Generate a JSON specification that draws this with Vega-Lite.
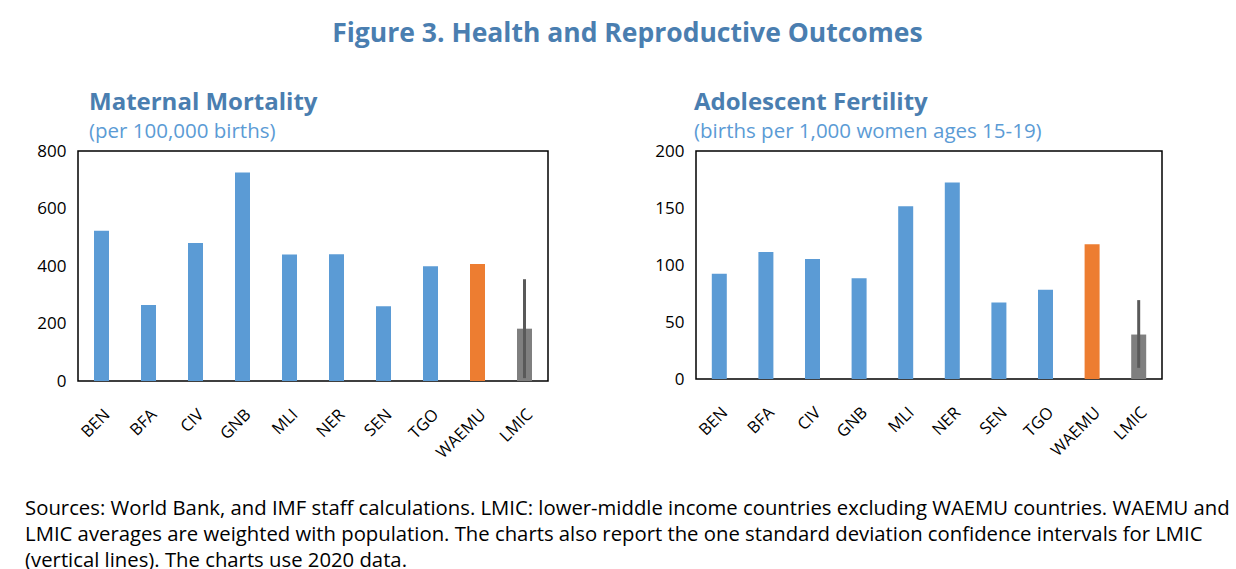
{
  "$schema": "https://vega.github.io/schema/vega-lite/v6.json",
  "padding": {"left": 25, "top": 21, "right": 2, "bottom": 0},
  "background": "white",
  "config": {
    "font": "Open Sans",
    "view": {"stroke": "#000000", "strokeWidth": 1.5},
    "axis": {"grid": false, "domain": false, "ticks": false, "labelFontSize": 17, "labelColor": "#000000", "title": null, "labelFont": "Open Sans"},
    "title": {"font": "Open Sans"}
  },
  "title": {"text": "Figure 3. Health and Reproductive Outcomes", "fontSize": 26.5, "fontWeight": "bold", "color": "#4A7EB0", "anchor": "middle", "offset": 42},
  "vconcat": [
    {
      "title": {
        "text": [
          "Sources: World Bank, and IMF staff calculations. LMIC: lower-middle income countries excluding WAEMU countries. WAEMU and",
          "LMIC averages are weighted with population. The charts also report the one standard deviation confidence intervals for LMIC",
          "(vertical lines). The charts use 2020 data."
        ],
        "orient": "bottom", "anchor": "start", "frame": "bounds", "dx": -11,
        "fontSize": 20.3, "fontWeight": "normal", "color": "#000000", "lineHeight": 26, "offset": 37
      },
      "spacing": 105,
      "hconcat": [
        {
          "title": {"text": "Maternal Mortality", "subtitle": "(per 100,000 births)", "anchor": "start", "frame": "group", "dx": 11, "fontSize": 24, "fontWeight": "bold", "color": "#4A7EB0", "subtitleFontSize": 20.5, "subtitleColor": "#5B9BD5", "subtitlePadding": 7, "offset": 0},
          "width": 470,
          "height": 230,
          "data": {"values": [
            {"cat": "BEN", "grp": "country", "value": 523},
            {"cat": "BFA", "grp": "country", "value": 264},
            {"cat": "CIV", "grp": "country", "value": 480},
            {"cat": "GNB", "grp": "country", "value": 725},
            {"cat": "MLI", "grp": "country", "value": 440},
            {"cat": "NER", "grp": "country", "value": 441},
            {"cat": "SEN", "grp": "country", "value": 260},
            {"cat": "TGO", "grp": "country", "value": 399},
            {"cat": "WAEMU", "grp": "WAEMU", "value": 407},
            {"cat": "LMIC", "grp": "LMIC", "value": 182, "lo": 10, "hi": 354}
          ]},
          "layer": [
            {
              "mark": {"type": "bar", "size": 15},
              "encoding": {
                "x": {"field": "cat", "type": "nominal", "sort": null, "axis": {"labelAngle": -45, "labelPadding": 25, "labelFontSize": 16.5}},
                "y": {"field": "value", "type": "quantitative", "scale": {"domain": [0, 800]}, "axis": {"values": [0, 200, 400, 600, 800], "labelPadding": 12}},
                "color": {"field": "grp", "type": "nominal", "scale": {"domain": ["country", "WAEMU", "LMIC"], "range": ["#5B9BD5", "#ED7D31", "#7F7F7F"]}, "legend": null}
              }
            },
            {
              "transform": [{"filter": "isValid(datum.lo)"}],
              "mark": {"type": "rule", "color": "#595959", "strokeWidth": 3},
              "encoding": {
                "x": {"field": "cat", "type": "nominal", "sort": null},
                "y": {"field": "lo", "type": "quantitative"},
                "y2": {"field": "hi"}
              }
            }
          ]
        },
        {
          "title": {"text": "Adolescent Fertility", "subtitle": "(births per 1,000 women ages 15-19)", "anchor": "start", "frame": "group", "dx": -2, "fontSize": 24, "fontWeight": "bold", "color": "#4A7EB0", "subtitleFontSize": 20.5, "subtitleColor": "#5B9BD5", "subtitlePadding": 7, "offset": 0},
          "width": 466,
          "height": 228,
          "data": {"values": [
            {"cat": "BEN", "grp": "country", "value": 92.4},
            {"cat": "BFA", "grp": "country", "value": 111.4},
            {"cat": "CIV", "grp": "country", "value": 105.2},
            {"cat": "GNB", "grp": "country", "value": 88.3},
            {"cat": "MLI", "grp": "country", "value": 151.6},
            {"cat": "NER", "grp": "country", "value": 172.4},
            {"cat": "SEN", "grp": "country", "value": 67.2},
            {"cat": "TGO", "grp": "country", "value": 78.2},
            {"cat": "WAEMU", "grp": "WAEMU", "value": 118.3},
            {"cat": "LMIC", "grp": "LMIC", "value": 39, "lo": 9.8, "hi": 69.2}
          ]},
          "layer": [
            {
              "mark": {"type": "bar", "size": 15},
              "encoding": {
                "x": {"field": "cat", "type": "nominal", "sort": null, "axis": {"labelAngle": -45, "labelPadding": 25, "labelFontSize": 16.5}},
                "y": {"field": "value", "type": "quantitative", "scale": {"domain": [0, 200]}, "axis": {"values": [0, 50, 100, 150, 200], "labelPadding": 12}},
                "color": {"field": "grp", "type": "nominal", "scale": {"domain": ["country", "WAEMU", "LMIC"], "range": ["#5B9BD5", "#ED7D31", "#7F7F7F"]}, "legend": null}
              }
            },
            {
              "transform": [{"filter": "isValid(datum.lo)"}],
              "mark": {"type": "rule", "color": "#595959", "strokeWidth": 3},
              "encoding": {
                "x": {"field": "cat", "type": "nominal", "sort": null},
                "y": {"field": "lo", "type": "quantitative"},
                "y2": {"field": "hi"}
              }
            }
          ]
        }
      ]
    }
  ]
}
